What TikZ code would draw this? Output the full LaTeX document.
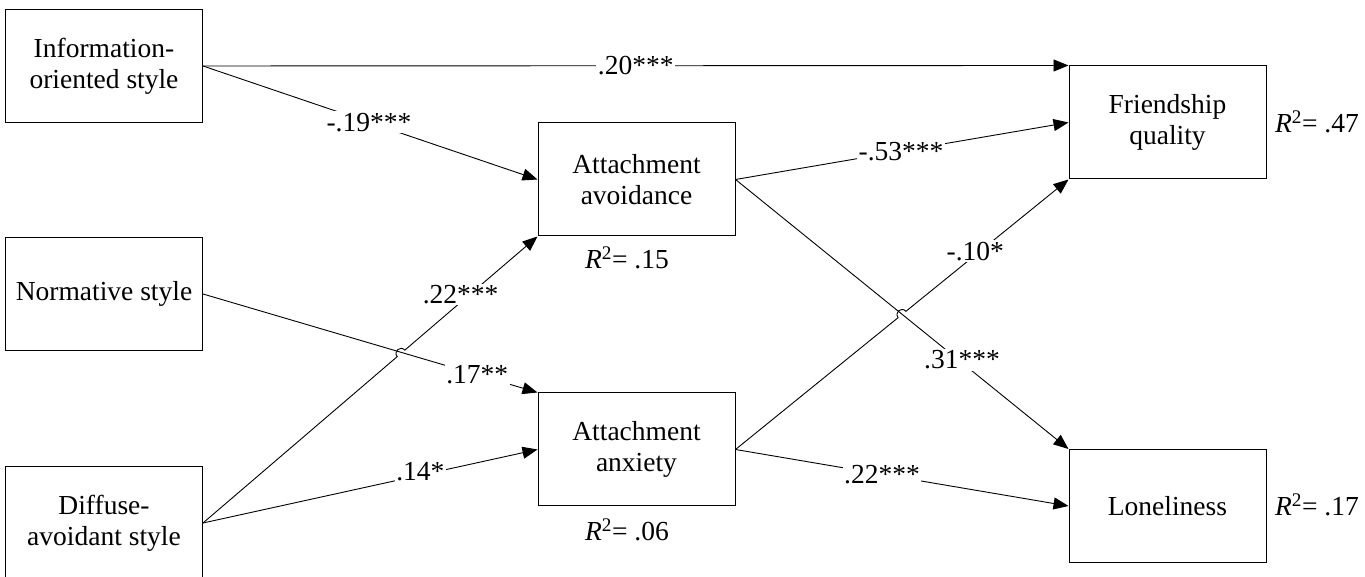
\documentclass[tikz,border=0pt]{standalone}
\usepackage{fontspec}
\setmainfont{Liberation Serif}
\usetikzlibrary{arrows.meta,calc}
\begin{document}
\begin{tikzpicture}[x=1pt,y=1pt,
  txt/.style={font=\fontsize{27.5}{31}\selectfont},
  box/.style={txt, draw, line width=1pt, minimum width=197pt, minimum height=113pt, inner sep=0pt, align=center},
  conn/.style={line width=0.9pt, -{Triangle[length=15pt,width=12pt]}},
  lbl/.style={txt, fill=white, inner sep=1.5pt},
  rsq/.style={txt, inner sep=0pt}]
\clip (0,0) rectangle (1365,577);
% boxes
\node[box] (info) at (104,511) {Information-\\oriented style};
\node[box] (norm) at (104,283) {Normative style};
\node[box] (diff) at (104,54) {Diffuse-\\avoidant style};
\node[box] (av) at (636.5,397.5) {Attachment\\avoidance};
\node[box] (anx) at (636.5,127.5) {Attachment\\anxiety};
\node[box] (fq) at (1167.5,454.5) {Friendship\\quality};
\node[box] (lon) at (1167.5,71) {Loneliness};
% R squared
\node[rsq] (r1) at (627,319) {{\itshape R}\textsuperscript{2}= .15};
\node[rsq] (r2) at (627,47) {{\itshape R}\textsuperscript{2}= .06};
\node[rsq] (r3) at (1317,455) {{\itshape R}\textsuperscript{2}= .47};
\node[rsq] (r4) at (1317,72) {{\itshape R}\textsuperscript{2}= .17};
% hop points
\coordinate (h1) at ($(diff.east)!0.592!(av.south west)$);
\coordinate (h1a) at ($(h1)!5pt!(diff.east)$);
\coordinate (h1b) at ($(h1)!5pt!(av.south west)$);
\coordinate (h2) at ($(anx.east)!0.5!(fq.south west)$);
\coordinate (h2a) at ($(h2)!5pt!(anx.east)$);
\coordinate (h2b) at ($(h2)!5pt!(fq.south west)$);
% connectors
\draw[conn] (info.east) -- (fq.north west);
\draw[conn] (info.east) -- (av.west);
\draw[conn] (norm.east) -- (anx.north west);
\draw[conn] (diff.east) -- (h1a) to[bend left=90, looseness=1.7] (h1b) -- (av.south west);
\draw[conn] (diff.east) -- (anx.west);
\draw[conn] (av.east) -- (fq.west);
\draw[conn] (av.east) -- (lon.north west);
\draw[conn] (anx.east) -- (h2a) to[bend left=90, looseness=1.7] (h2b) -- (fq.south west);
\draw[conn] (anx.east) -- (lon.west);
% labels
\path (info.east) -- (fq.north west) node[lbl, pos=0.5] (l1) {.20***};
\path (info.east) -- (av.west) node[lbl, pos=0.496] (l2) {-.19***};
\path (norm.east) -- (anx.north west) node[lbl, pos=0.82] (l3) {.17**};
\path (diff.east) -- (av.south west) node[lbl, pos=0.77, yshift=8pt] (l4) {.22***};
\path (diff.east) -- (anx.west) node[lbl, pos=0.65, yshift=4pt] (l5) {.14*};
\path (av.east) -- (fq.west) node[lbl, pos=0.497] (l6) {-.53***};
\path (av.east) -- (lon.north west) node[lbl, pos=0.68, yshift=3pt] (l7) {.31***};
\path (anx.east) -- (fq.south west) node[lbl, pos=0.72, yshift=4pt] (l8) {-.10*};
\path (anx.east) -- (lon.west) node[lbl, pos=0.44] (l9) {.22***};
\end{tikzpicture}
\end{document}
